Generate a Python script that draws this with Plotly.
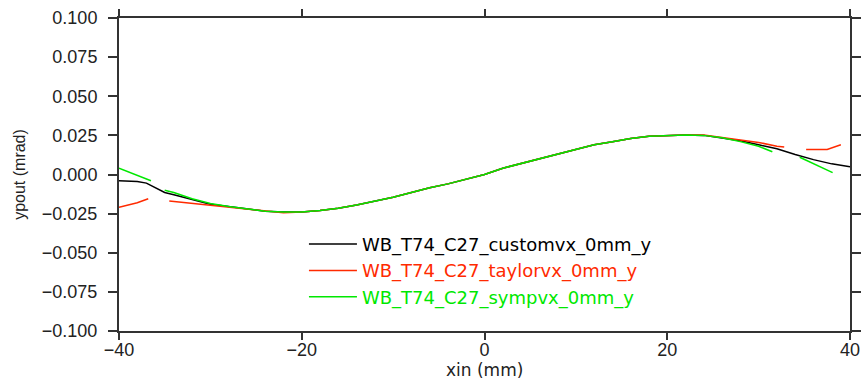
import plotly.graph_objects as go

# ---- data ----
x_custom = [-40, -38, -37, -36, -35, -34, -32, -30, -28, -26, -24, -22, -20, -18, -16, -14, -12, -10,
            -8, -6, -4, -2, 0, 2, 4, 6, 8, 10, 12, 14, 16, 18, 20, 22, 24, 26, 28, 30, 32, 34, 36, 38, 40]
y_custom = [-0.004, -0.0045, -0.0055, -0.0085, -0.0115, -0.013, -0.016, -0.019, -0.0205, -0.022,
            -0.0235, -0.024, -0.024, -0.023, -0.0215, -0.0195, -0.017, -0.0145, -0.0115, -0.0085,
            -0.006, -0.003, 0.0, 0.004, 0.007, 0.010, 0.013, 0.016, 0.019, 0.021, 0.023, 0.0245,
            0.025, 0.0252, 0.025, 0.0235, 0.0216, 0.019, 0.0165, 0.0128, 0.0095, 0.0068, 0.005]

x_taylor = [-40, -38, -36.8, None, -34.5, -32, -30, -28, -26, -24, -22, -20, -18, -16, -14, -12, -10,
            -8, -6, -4, -2, 0, 2, 4, 6, 8, 10, 12, 14, 16, 18, 20, 22, 24, 26, 28, 30, 32, 32.8,
            None, 35.2, 37.5, 39]
y_taylor = [-0.021, -0.018, -0.0155, None, -0.017, -0.0185, -0.0195, -0.021, -0.022, -0.0235,
            -0.0245, -0.024, -0.023, -0.0215, -0.0195, -0.017, -0.0145, -0.0115, -0.0085, -0.006,
            -0.003, 0.0, 0.004, 0.007, 0.010, 0.013, 0.016, 0.019, 0.021, 0.023, 0.0245, 0.025,
            0.0252, 0.0252, 0.0238, 0.022, 0.0205, 0.018, 0.0175, None, 0.016, 0.016, 0.019]

x_symp = [-40, -38, -36.5, None, -35, -34, -32, -30, -28, -26, -24, -22, -20, -18, -16, -14, -12, -10,
          -8, -6, -4, -2, 0, 2, 4, 6, 8, 10, 12, 14, 16, 18, 20, 22, 24, 26, 28, 30, 31.5,
          None, 34.5, 36, 38.1]
y_symp = [0.004, -0.0005, -0.004, None, -0.010, -0.0115, -0.0155, -0.0185, -0.0205, -0.022,
          -0.0235, -0.024, -0.024, -0.023, -0.0215, -0.0195, -0.017, -0.0145, -0.0115, -0.0085,
          -0.006, -0.003, 0.0, 0.004, 0.007, 0.010, 0.013, 0.016, 0.019, 0.021, 0.023, 0.0245,
          0.025, 0.0252, 0.025, 0.0235, 0.021, 0.018, 0.0145, None, 0.011, 0.007, 0.0012]

names = ["WB_T74_C27_customvx_0mm_y", "WB_T74_C27_taylorvx_0mm_y", "WB_T74_C27_sympvx_0mm_y"]
colors = ["#000000", "#ff2a00", "#00e800"]

x_ticks = [-40, -20, 0, 20, 40]
y_ticks = [-0.100, -0.075, -0.050, -0.025, 0.000, 0.025, 0.050, 0.075, 0.100]
y_tick_text = ["\u22120.100", "\u22120.075", "\u22120.050", "\u22120.025", "0.000",
               "0.025", "0.050", "0.075", "0.100"]
x_tick_text = ["\u221240", "\u221220", "0", "20", "40"]
x_title = "xin (mm)"
y_title = "ypout (mrad)"

fig = go.Figure()
series = [(x_custom, y_custom), (x_taylor, y_taylor), (x_symp, y_symp)]
for i, ((xs, ys), nm, c) in enumerate(zip(series, names, colors)):
    fig.add_trace(go.Scatter(
        x=xs, y=ys, mode="lines", connectgaps=False,
        line=dict(color=c, width=1.5),
        name=f'<span style="color:{c}">{nm}</span>',
        legendgroup=f"g{i}",
    ))

axis_common = dict(
    showgrid=False, zeroline=False, showline=True, linecolor="#333333", linewidth=2,
    mirror="ticks", ticks="outside", tickwidth=2, tickcolor="#333333",
    tickfont=dict(family="Liberation Sans", size=18, color="#222222"),
    automargin=False,
)

fig.update_layout(
    width=863, height=379,
    margin=dict(l=119, r=13, t=18, b=48),
    paper_bgcolor="white", plot_bgcolor="white",
    showlegend=True,
    legend=dict(
        x=0.253, y=0.336, xanchor="left", yanchor="top",
        bgcolor="rgba(0,0,0,0)",
        font=dict(family="DejaVu Sans", size=18),
        tracegroupgap=0, itemwidth=48,
    ),
    xaxis=dict(range=[-40, 40], tickvals=x_ticks, ticktext=x_tick_text,
               ticklen=7, ticklabelstandoff=-6,
               **axis_common),
    yaxis=dict(range=[-0.1, 0.1], tickvals=y_ticks, ticktext=y_tick_text,
               ticklen=9, ticklabelstandoff=7,
               title=dict(text=y_title, font=dict(family="Liberation Sans", size=16, color="#222222"),
                          standoff=12),
               **axis_common),
    annotations=[dict(
        text=x_title, xref="paper", yref="paper", x=0.5, y=-0.125,
        xanchor="center", yanchor="middle", showarrow=False,
        font=dict(family="DejaVu Sans", size=17, color="#222222"),
    )],
)

fig.write_html("out.html")
